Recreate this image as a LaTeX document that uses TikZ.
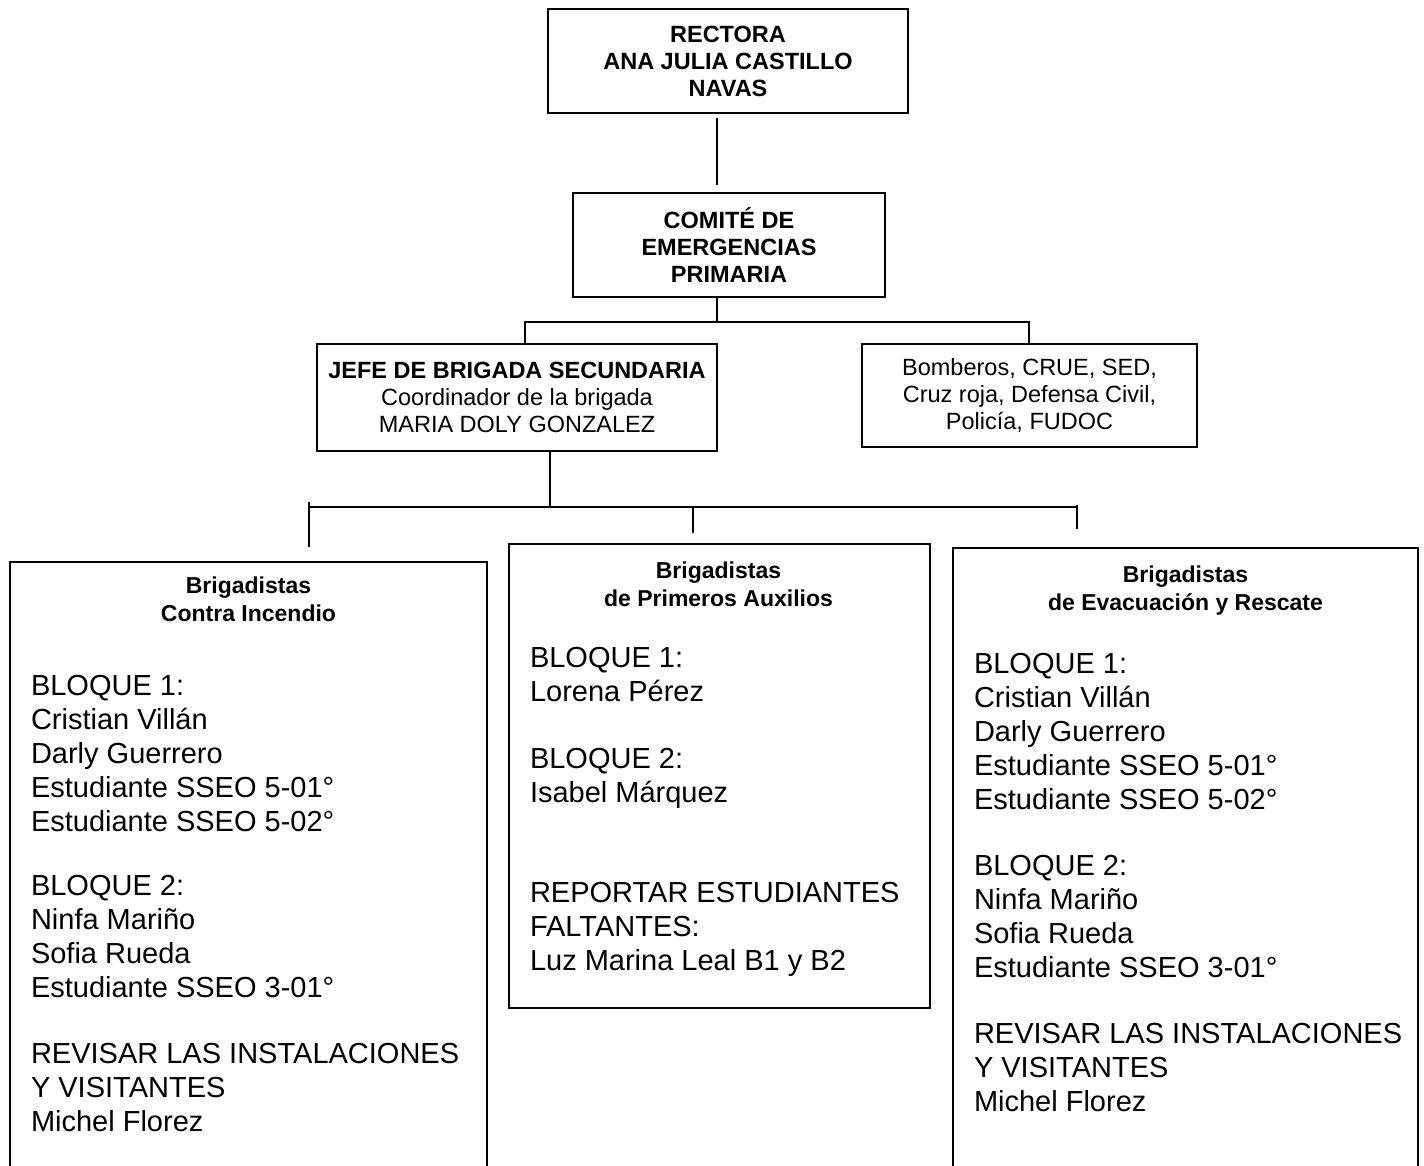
\documentclass[tikz,border=0pt]{standalone}
\usepackage{fontspec}
\setmainfont{Liberation Sans}
\usetikzlibrary{calc}
\newcommand\mystrut[1]{\rule{0pt}{#1}}
\begin{document}
\begin{tikzpicture}[x=1pt,y=-1pt,
  every path/.style={line width=2pt},
  box/.style={draw=black,line width=2pt,inner sep=0pt,align=center},
  topfont/.style={font=\bfseries\fontsize{23.5}{27}\selectfont},
  midfont/.style={font=\fontsize{23.5}{27}\selectfont},
  headtext/.style={inner sep=0pt,anchor=north,align=center,font=\bfseries\fontsize{23}{28}\selectfont},
  bodytext/.style={inner sep=0pt,anchor=north west,align=left,font=\fontsize{29}{34}\selectfont},
  conn/.style={draw=black,line width=2pt}]
\useasboundingbox (0,0) rectangle (1424,1165);

% top levels
\node[box,topfont,minimum width=360pt,minimum height=104pt] (rect) at (728,61)
  {RECTORA\\ANA JULIA CASTILLO\\NAVAS};
\node[box,topfont,minimum width=312pt,minimum height=104pt] (comite) at (729,245)
  {COMITÉ DE\\EMERGENCIAS\\PRIMARIA};
\node[box,midfont,minimum width=400pt,minimum height=107pt] (jefe) at (517,397.5)
  {\textbf{JEFE DE BRIGADA SECUNDARIA}\\Coordinador de la brigada\\MARIA DOLY GONZALEZ};
\node[box,midfont,minimum width=335pt,minimum height=103pt] (bomb) at (1029.5,395.5)
  {Bomberos, CRUE, SED,\\Cruz roja, Defensa Civil,\\Policía, FUDOC};

% connector rectora - comite
\coordinate (c1) at (717,118);
\coordinate (c2) at (717,185);
\draw[conn] (c1) -- (c2);

% connector comite - jefe / bomberos
\coordinate (b1) at (717,322);
\coordinate (bL) at (525,322);
\coordinate (bR) at (1029,322);
\draw[conn] (b1 |- comite.south) -- (b1);
\draw[conn] (bL |- jefe.north) -- (bL) -- (bR) -- (bR |- bomb.north);

% connector jefe - brigades
\coordinate (d1) at (550,507);
\coordinate (dL) at (309,507);
\coordinate (dR) at (1077,507);
\coordinate (dM) at (693,507);
\coordinate (tL1) at (309,502);
\coordinate (tL2) at (309,547);
\coordinate (tM) at (693,533);
\coordinate (tR1) at (1077,505);
\coordinate (tR2) at (1077,529);
\draw[conn] (d1 |- jefe.south) -- (d1);
\draw[conn] (dL) -- (dR);
\draw[conn] (tL1) -- (tL2);
\draw[conn] (dM) -- (tM);
\draw[conn] (tR1) -- (tR2);

% bottom boxes
\coordinate (lbA) at (10,1166);
\coordinate (lbB) at (10,562);
\coordinate (lbC) at (487,562);
\coordinate (lbD) at (487,1166);
\draw[conn] (lbA) -- (lbB) -- (lbC) -- (lbD);

\node[draw=black,line width=2pt,inner sep=0pt,anchor=north west,
      minimum width=421pt,minimum height=464pt] (mid) at (508,543) {};

\coordinate (rbA) at (953,1166);
\coordinate (rbB) at (953,548);
\coordinate (rbC) at (1418,548);
\coordinate (rbD) at (1418,1166);
\draw[conn] (rbA) -- (rbB) -- (rbC) -- (rbD);

% left box text
\node[headtext] (lh) at (248.5,572) {\mystrut{20pt}Brigadistas\\Contra Incendio};
\node[bodytext] (lt) at (30,664) {\mystrut{30pt}BLOQUE 1:\\Cristian Villán\\Darly Guerrero\\Estudiante SSEO 5-01°\\Estudiante SSEO 5-02°\\[30pt]
BLOQUE 2:\\Ninfa Mariño\\Sofia Rueda\\Estudiante SSEO 3-01°\\[32pt]
REVISAR LAS INSTALACIONES\\Y VISITANTES\\Michel Florez};

% middle box text
\node[headtext] (mh) at (718.5,557) {\mystrut{20pt}Brigadistas\\de Primeros Auxilios};
\node[bodytext] (mt) at (529,636) {\mystrut{30pt}BLOQUE 1:\\Lorena Pérez\\[33pt]
BLOQUE 2:\\Isabel Márquez\\[66pt]
REPORTAR ESTUDIANTES\\FALTANTES:\\Luz Marina Leal B1 y B2};

% right box text
\node[headtext] (rh) at (1185.5,561) {\mystrut{20pt}Brigadistas\\de Evacuación y Rescate};
\node[bodytext] (rt) at (973,642) {\mystrut{30pt}BLOQUE 1:\\Cristian Villán\\Darly Guerrero\\Estudiante SSEO 5-01°\\Estudiante SSEO 5-02°\\[32pt]
BLOQUE 2:\\Ninfa Mariño\\Sofia Rueda\\Estudiante SSEO 3-01°\\[32pt]
REVISAR LAS INSTALACIONES\\Y VISITANTES\\Michel Florez};
\end{tikzpicture}
\end{document}
